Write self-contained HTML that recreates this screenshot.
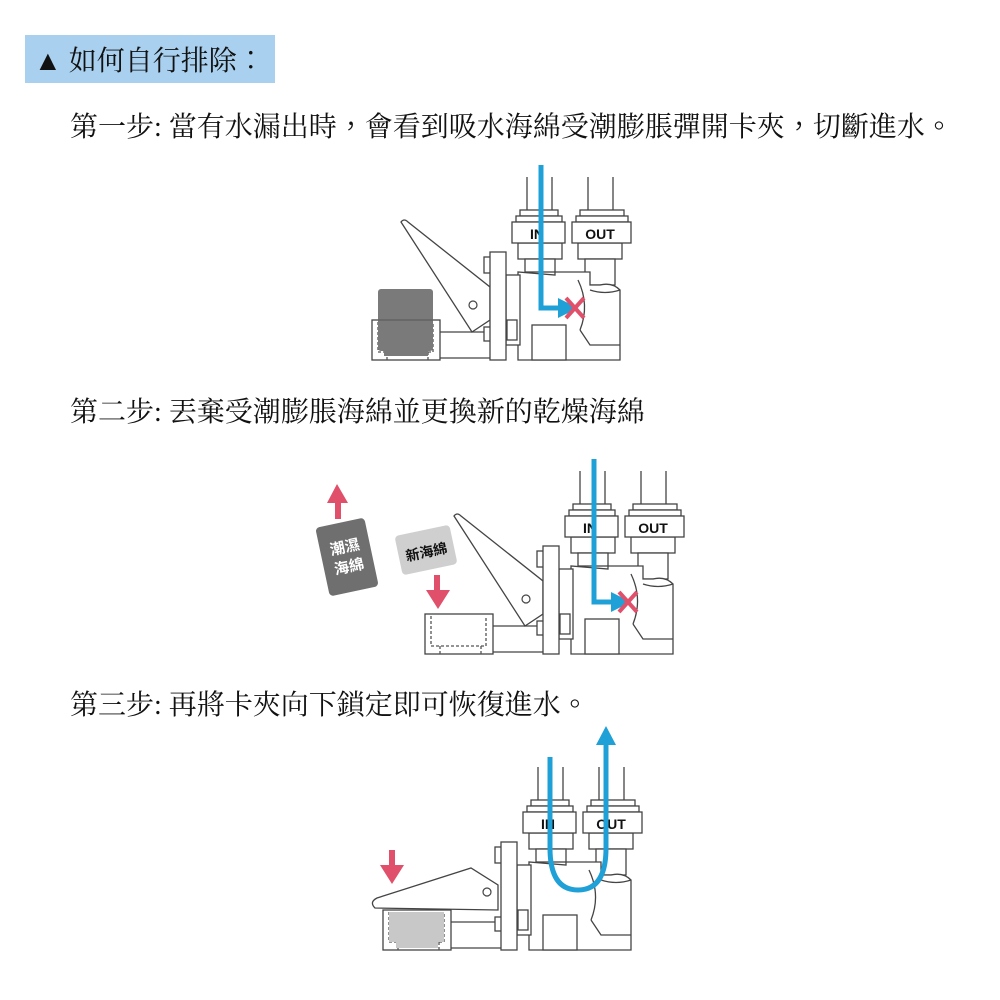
<!DOCTYPE html>
<html><head><meta charset="utf-8"><style>
html,body{margin:0;padding:0;background:#fff;width:1000px;height:1000px;overflow:hidden}
.t{position:absolute;font-family:"Liberation Serif","Noto Serif CJK SC","Noto Sans CJK TC",serif;font-size:28px;color:#111;white-space:nowrap;line-height:1}
.p{font-family:"Noto Sans CJK TC",sans-serif;font-weight:300}
#hd{position:absolute;left:25px;top:35px;width:250px;height:48px;background:#a9d0ef}
svg{position:absolute;left:0;top:0}
</style></head><body>
<div id="hd"></div>
<div class="t" style="left:34px;top:45px">▲ 如何自行排除<span class="p">：</span></div>
<div class="t" style="left:70px;top:111px">第一步: 當有水漏出時<span class="p">，</span>會看到吸水海綿受潮膨脹彈開卡夾<span class="p">，</span>切斷進水<span class="p">。</span></div>
<div class="t" style="left:70px;top:399px">第二步: 丟棄受潮膨脹海綿並更換新的乾燥海綿</div>
<div class="t" style="left:70px;top:689px">第三步: 再將卡夾向下鎖定即可恢復進水<span class="p">。</span></div>
<svg width="1000" height="1000" viewBox="0 0 1000 1000">
<defs>
<g id="valve" fill="#fff" stroke="#444" stroke-width="1.3">
 <line x1="527" y1="177" x2="527" y2="212"/><line x1="552" y1="177" x2="552" y2="212"/>
 <line x1="588" y1="177" x2="588" y2="212"/><line x1="613" y1="177" x2="613" y2="212"/>
 <rect x="520" y="210" width="38" height="6"/><rect x="516" y="216" width="46" height="6"/>
 <rect x="580" y="210" width="44" height="6"/><rect x="576" y="216" width="52" height="6"/>
 <rect x="518" y="243" width="44" height="16"/><rect x="525" y="259" width="30" height="13"/>
 <rect x="578" y="243" width="44" height="16"/><rect x="585" y="259" width="30" height="26"/>
 <path d="M518 272 L518 360 L620 360 L620 290 Q612 282 600 285 L590 285 L590 272 L555 272 L555 275 Z"/>
 <path d="M578 280 Q590 305 580 330" fill="none"/>
 <path d="M590 290 Q605 295 620 290" fill="none"/>
 <path d="M580 330 L590 345 L620 345" fill="none"/>
 <rect x="532" y="325" width="34" height="35"/>
 <rect x="506" y="275" width="14" height="70"/><rect x="507" y="320" width="10" height="20"/>
 <rect x="484" y="257" width="7" height="16"/><rect x="484" y="327" width="7" height="14"/>
 <rect x="490" y="252" width="16" height="108"/>
 <rect x="512" y="222" width="53" height="21"/><rect x="572" y="222" width="59" height="21"/>
 <text x="537" y="239" font-family="Liberation Sans,sans-serif" font-weight="bold" font-size="14" fill="#111" stroke="none" text-anchor="middle">IN</text>
 <text x="600" y="239" font-family="Liberation Sans,sans-serif" font-weight="bold" font-size="14" fill="#111" stroke="none" text-anchor="middle">OUT</text>
</g>
<g id="holder" stroke="#444" stroke-width="1.3" fill="none">
 <line x1="440" y1="332" x2="484" y2="332"/><line x1="440" y1="358" x2="490" y2="358"/>
 <rect x="372" y="320" width="68" height="40" fill="#fff"/>
 <path d="M378 322 V352 H433 V322 M387 352 V360 M428 352 V360" stroke-dasharray="3,2" stroke="#555"/>
</g>
</defs>
<!-- diagram 1 -->
<use href="#holder"/>
<rect x="378" y="289" width="55" height="62" rx="3" fill="#7a7a7a"/>
<rect x="384" y="348" width="44" height="8" fill="#7a7a7a"/>
<line x1="378" y1="320" x2="433" y2="320" stroke="#555" stroke-width="1"/>
<path d="M401 222 Q404 218 408 222 L490 287 L490 320 L472 332 Z" fill="#fff" stroke="#444" stroke-width="1.3"/>
<circle cx="473" cy="305" r="4" fill="#fff" stroke="#444" stroke-width="1.2"/>
<use href="#valve"/>
<path d="M541 165 V308 H560" fill="none" stroke="#1fa0d6" stroke-width="5"/>
<path d="M558 298 L578 308 L558 318 Z" fill="#1fa0d6"/>
<path d="M566 298 L584 318 M584 298 L566 318" stroke="#e0506a" stroke-width="4"/>
<!-- diagram 2 -->
<g transform="translate(53,294)">
<use href="#holder"/>
<path d="M401 222 Q404 218 408 222 L490 287 L490 320 L472 332 Z" fill="#fff" stroke="#444" stroke-width="1.3"/>
<circle cx="473" cy="305" r="4" fill="#fff" stroke="#444" stroke-width="1.2"/>
<use href="#valve"/>
<path d="M541 165 V308 H560" fill="none" stroke="#1fa0d6" stroke-width="5"/>
<path d="M558 298 L578 308 L558 318 Z" fill="#1fa0d6"/>
<path d="M566 298 L584 318 M584 298 L566 318" stroke="#e0506a" stroke-width="4"/>
</g>
<g transform="rotate(-12 347 557)"><rect x="322" y="522" width="50" height="70" rx="4" fill="#6f6f6f"/>
<text x="347" y="552" font-family="Noto Sans CJK TC,sans-serif" font-weight="bold" font-size="15" fill="#fff" text-anchor="middle">潮濕</text>
<text x="347" y="572" font-family="Noto Sans CJK TC,sans-serif" font-weight="bold" font-size="15" fill="#fff" text-anchor="middle">海綿</text></g>
<g transform="rotate(-12 426 550)"><rect x="398" y="530" width="56" height="40" rx="4" fill="#cfcfcf"/>
<text x="426" y="557" font-family="Noto Sans CJK TC,sans-serif" font-weight="bold" font-size="14" fill="#111" text-anchor="middle">新海綿</text></g>
<path d="M338 519 V500" stroke="#e0506a" stroke-width="6"/><path d="M327 503 L337 484 L348 503 Z" fill="#e0506a"/>
<path d="M437 575 V592" stroke="#e0506a" stroke-width="6"/><path d="M426 590 L438 609 L450 590 Z" fill="#e0506a"/>
<!-- diagram 3 -->
<g transform="translate(11,590)">
<use href="#holder"/>
<rect x="378" y="322" width="55" height="30" fill="#c8c8c8"/><rect x="385" y="350" width="42" height="8" fill="#c8c8c8"/>
<path d="M364 318 Q358 312 366 308 L460 278 L487 295 L487 320 Z" fill="#fff" stroke="#444" stroke-width="1.3"/>
<circle cx="476" cy="302" r="4" fill="#fff" stroke="#444" stroke-width="1.2"/>
<use href="#valve"/>
<path d="M539 167 V258 Q539 300 567 300 Q595 300 595 258 V150" fill="none" stroke="#1fa0d6" stroke-width="5"/>
<path d="M585 155 L595 136 L605 155 Z" fill="#1fa0d6"/>
</g>
<path d="M392 850 V868" stroke="#e0506a" stroke-width="6"/><path d="M380 865 L392 884 L404 865 Z" fill="#e0506a"/>
</svg>
</body></html>
